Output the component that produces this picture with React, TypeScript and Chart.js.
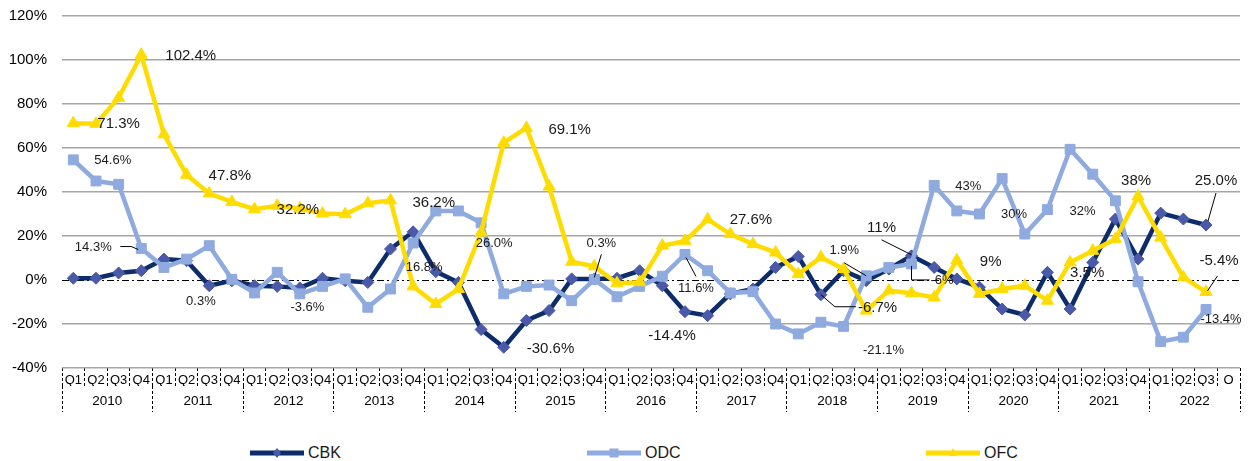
import React, { useEffect, useRef } from 'react';
import { Chart, registerables } from 'chart.js';

Chart.register(...registerables);

const YEARS = ['2010', '2011', '2012', '2013', '2014', '2015', '2016', '2017', '2018', '2019', '2020', '2021', '2022'];
const QUARTERS = [
  'Q1', 'Q2', 'Q3', 'Q4', 'Q1', 'Q2', 'Q3', 'Q4', 'Q1', 'Q2', 'Q3', 'Q4',
  'Q1', 'Q2', 'Q3', 'Q4', 'Q1', 'Q2', 'Q3', 'Q4', 'Q1', 'Q2', 'Q3', 'Q4',
  'Q1', 'Q2', 'Q3', 'Q4', 'Q1', 'Q2', 'Q3', 'Q4', 'Q1', 'Q2', 'Q3', 'Q4',
  'Q1', 'Q2', 'Q3', 'Q4', 'Q1', 'Q2', 'Q3', 'Q4', 'Q1', 'Q2', 'Q3', 'Q4',
  'Q1', 'Q2', 'Q3', 'O',
];
const Y_TICKS = [-40, -20, 0, 20, 40, 60, 80, 100, 120];

const CBK = [
  0.8, 0.8, 3.2, 4.2, 9.5, 8.8, -2.6, -0.3, -2.6, -2.9, -3.6, 0.8,
  -0.3, -1.1, 14.1, 21.9, 3.8, -1.1, -22.5, -30.6, -18.4, -13.9, 0.5, 0.5,
  0.8, 4.2, -2.6, -14.4, -16.2, -6.3, -4.1, 5.7, 10.7, -6.7, 4.2, -0.3,
  5.0, 11.0, 5.7, 0.5, -3.3, -13.2, -15.9, 3.5, -13.2, 8.0, 27.7, 9.5,
  30.4, 27.7, 25.0, null,
];
const ODC = [
  54.6, 45.0, 43.5, 14.3, 5.7, 9.5, 15.6, 0.3, -5.9, 3.5, -6.3, -2.9,
  0.5, -12.4, -4.1, 16.8, 31.4, 31.4, 26.0, -6.3, -2.9, -2.3, -9.4, 0.3,
  -7.6, -2.9, 1.7, 11.6, 4.2, -5.9, -5.3, -20.0, -24.5, -19.2, -21.1, 1.9,
  5.7, 7.3, 43.0, 31.4, 30.0, 46.1, 20.9, 32.0, 59.4, 48.1, 36.0, -0.8,
  -28.0, -26.0, -13.4, null,
];
const OFC = [
  71.3, 71.0, 82.8, 102.4, 66.2, 47.8, 39.3, 35.5, 32.2, 33.7, 32.5, 30.2,
  29.9, 34.9, 36.2, -2.9, -10.9, -4.1, 21.6, 62.4, 69.1, 42.5, 8.3, 6.2,
  -1.5, -1.0, 15.6, 17.8, 27.6, 20.9, 16.3, 12.5, 2.7, 10.3, 5.0, -13.9,
  -4.8, -6.0, -7.9, 9.0, -6.3, -4.1, -2.6, -9.4, 8.0, 13.3, 18.6, 38.0,
  19.3, 1.2, -5.4, null,
];

const SERIES_NAMES = ['CBK', 'ODC', 'OFC'];

const FONT = '"Liberation Sans", Arial, sans-serif';
const NAVY = '#0c2c6a';
const NAVY_MARK = '#4a59a8';
const LIGHT = '#8eaadf';
const YELLOW = '#ffdc00';
const TEXT = '#1a1a1a';

type Note = {
  ds: number;
  i: number;
  text: string;
  size: number;
  align: 'left' | 'center';
  dx: number;
  dy: number;
  leader?: number[][];
};

// data-label annotations: anchored on a series point, offset in px
const NOTES: Note[] = [
  { ds: 2, i: 0, text: '71.3%', size: 15, align: 'left', dx: 24, dy: 1 },
  { ds: 2, i: 3, text: '102.4%', size: 15, align: 'left', dx: 24, dy: 1 },
  { ds: 2, i: 5, text: '47.8%', size: 15, align: 'left', dx: 22, dy: 1 },
  { ds: 2, i: 8, text: '32.2%', size: 15, align: 'left', dx: 22, dy: 1 },
  { ds: 1, i: 0, text: '54.6%', size: 13, align: 'left', dx: 21, dy: 1 },
  { ds: 1, i: 3, text: '14.3%', size: 13, align: 'center', dx: -48, dy: -1, leader: [[-21, -2], [-10, -2], [-3, 1]] },
  { ds: 1, i: 7, text: '0.3%', size: 13, align: 'center', dx: -31, dy: 22 },
  { ds: 0, i: 10, text: '-3.6%', size: 13, align: 'center', dx: 7.5, dy: 20 },
  { ds: 2, i: 14, text: '36.2%', size: 15, align: 'left', dx: 22, dy: 2 },
  { ds: 1, i: 15, text: '16.8%', size: 13, align: 'center', dx: 11, dy: 24 },
  { ds: 1, i: 18, text: '26.0%', size: 13, align: 'center', dx: 13, dy: 21 },
  { ds: 0, i: 19, text: '-30.6%', size: 15, align: 'left', dx: 23, dy: 1.5 },
  { ds: 2, i: 20, text: '69.1%', size: 15, align: 'left', dx: 22, dy: 1.5 },
  { ds: 1, i: 23, text: '0.3%', size: 13, align: 'center', dx: 7, dy: -36, leader: [[7, -25], [0, -2]] },
  { ds: 0, i: 27, text: '-14.4%', size: 15, align: 'center', dx: -13, dy: 24.5 },
  { ds: 1, i: 27, text: '11.6%', size: 13, align: 'center', dx: 11, dy: 34, leader: [[1, 3], [11, 22]] },
  { ds: 2, i: 28, text: '27.6%', size: 15, align: 'left', dx: 22, dy: 1 },
  { ds: 0, i: 33, text: '-6.7%', size: 15, align: 'left', dx: 37, dy: 13, leader: [[0, 0], [14, 12], [35, 12]] },
  { ds: 1, i: 34, text: '-21.1%', size: 13, align: 'center', dx: 40, dy: 24 },
  { ds: 1, i: 35, text: '1.9%', size: 13, align: 'center', dx: -22, dy: -25, leader: [[-22, -13], [0, 0]] },
  { ds: 0, i: 37, text: '11%', size: 15, align: 'center', dx: -30, dy: -28, leader: [[-30, -16], [0, -1]] },
  { ds: 1, i: 37, text: '-6%', size: 13, align: 'center', dx: 30.5, dy: 16, leader: [[0, 2], [0, 16], [18, 16]] },
  { ds: 1, i: 38, text: '43%', size: 13, align: 'left', dx: 21, dy: 1 },
  { ds: 2, i: 39, text: '9%', size: 15, align: 'left', dx: 23, dy: 2 },
  { ds: 1, i: 40, text: '30%', size: 13, align: 'left', dx: 21.5, dy: 0.5 },
  { ds: 1, i: 43, text: '32%', size: 13, align: 'left', dx: 22, dy: 1.5 },
  { ds: 0, i: 43, text: '3.5%', size: 15, align: 'left', dx: 22.6, dy: 1 },
  { ds: 2, i: 47, text: '38%', size: 15, align: 'center', dx: -2, dy: -16 },
  { ds: 0, i: 50, text: '25.0%', size: 15, align: 'center', dx: 10, dy: -44, leader: [[10, -32], [2, -4]] },
  { ds: 2, i: 50, text: '-5.4%', size: 15, align: 'center', dx: 13, dy: -31, leader: [[11.5, -16], [1.5, -1]] },
  { ds: 1, i: 50, text: '-13.4%', size: 13, align: 'center', dx: 15, dy: 10 },
];

const annotatePlugin = {
  id: 'annotate',
  beforeDatasetsDraw(chart: any) {
    const { ctx, chartArea, scales } = chart;
    const py = Math.round(scales.y.getPixelForValue(0)) + 0.5;
    ctx.save();
    ctx.strokeStyle = '#000';
    ctx.lineWidth = 1.2;
    ctx.setLineDash([7, 3, 2, 3]);
    ctx.beginPath();
    ctx.moveTo(chartArea.left, py);
    ctx.lineTo(chartArea.right, py);
    ctx.stroke();
    ctx.restore();
  },
  afterDatasetsDraw(chart: any) {
    const { ctx } = chart;
    ctx.save();
    NOTES.forEach((n) => {
      const el = chart.getDatasetMeta(n.ds).data[n.i];
      if (!el) return;
      const x = el.x;
      const y = el.y;
      if (n.leader) {
        ctx.strokeStyle = '#000';
        ctx.lineWidth = 1;
        ctx.setLineDash([]);
        ctx.beginPath();
        n.leader.forEach((p, k) => {
          if (k === 0) ctx.moveTo(x + p[0], y + p[1]);
          else ctx.lineTo(x + p[0], y + p[1]);
        });
        ctx.stroke();
      }
      ctx.font = `${n.size}px ${FONT}`;
      ctx.fillStyle = TEXT;
      ctx.textAlign = n.align;
      ctx.textBaseline = 'middle';
      ctx.fillText(n.text, x + n.dx, y + n.dy);
    });
    ctx.restore();
  },
};

function LegendSample({ kind }: { kind: number }) {
  const color = kind === 0 ? NAVY : kind === 1 ? LIGHT : YELLOW;
  let marker: React.ReactNode = null;
  if (kind === 0) marker = <polygon points="27,3 31,8 27,13 23,8" fill={NAVY_MARK} />;
  if (kind === 1) marker = <rect x={22.5} y={3.5} width={9} height={9} fill={LIGHT} />;
  if (kind === 2) marker = <polygon points="27,3 31,11 23,11" fill={YELLOW} />;
  return (
    <svg width={54} height={16} style={{ display: 'block' }}>
      <line x1={0} y1={8} x2={54} y2={8} stroke={color} strokeWidth={5} />
      {marker}
    </svg>
  );
}

const LEGEND_LEFT = [250, 587, 926];

export default function App() {
  const ref = useRef<HTMLCanvasElement | null>(null);

  useEffect(() => {
    if (!ref.current) return;
    const chart = new Chart(ref.current, {
      type: 'line',
      data: {
        labels: QUARTERS,
        datasets: [
          {
            label: SERIES_NAMES[0],
            data: CBK,
            borderColor: NAVY,
            backgroundColor: NAVY_MARK,
            pointBackgroundColor: NAVY_MARK,
            pointBorderColor: NAVY_MARK,
            pointStyle: 'rectRot',
            pointRadius: 6,
            pointBorderWidth: 1,
            borderWidth: 4.5,
            tension: 0,
            order: 2,
          },
          {
            label: SERIES_NAMES[1],
            data: ODC,
            borderColor: LIGHT,
            backgroundColor: LIGHT,
            pointBackgroundColor: LIGHT,
            pointBorderColor: LIGHT,
            pointStyle: 'rect',
            pointRadius: 7,
            pointBorderWidth: 1,
            borderWidth: 4.5,
            tension: 0,
            order: 1,
          },
          {
            label: SERIES_NAMES[2],
            data: OFC,
            borderColor: YELLOW,
            backgroundColor: YELLOW,
            pointBackgroundColor: YELLOW,
            pointBorderColor: YELLOW,
            pointStyle: 'triangle',
            pointRadius: 7,
            pointBorderWidth: 1,
            borderWidth: 4.5,
            tension: 0,
            order: 0,
          },
        ],
      },
      options: {
        responsive: false,
        animation: false,
        layout: { padding: { top: 0, right: 7, bottom: 16, left: 0 } },
        plugins: {
          legend: { display: false },
          tooltip: { enabled: false },
        },
        scales: {
          x: {
            type: 'category',
            position: 'bottom',
            weight: 0,
            offset: true,
            border: { display: false },
            grid: {
              display: true,
              offset: true,
              drawOnChartArea: false,
              drawTicks: true,
              tickLength: 18,
              tickColor: '#000',
              tickWidth: 1,
              tickBorderDash: [3, 2],
            },
            ticks: {
              autoSkip: false,
              maxRotation: 0,
              minRotation: 0,
              padding: -13.8,
              color: '#000',
              font: { family: FONT, size: 13 },
            },
            afterFit: (s: any) => {
              s.height = 18;
            },
          },
          years: {
            type: 'category',
            labels: YEARS,
            position: 'bottom',
            weight: 1,
            offset: true,
            border: { display: false },
            grid: {
              display: true,
              offset: true,
              drawOnChartArea: false,
              drawTicks: true,
              tickLength: 26,
              tickColor: '#000',
              tickWidth: 1,
              tickBorderDash: [3, 2],
            },
            ticks: {
              autoSkip: false,
              maxRotation: 0,
              minRotation: 0,
              padding: -18.4,
              color: '#000',
              font: { family: FONT, size: 13.5 },
            },
            afterFit: (s: any) => {
              s.height = 26;
            },
          },
          y: {
            type: 'linear',
            min: Y_TICKS[0],
            max: Y_TICKS[Y_TICKS.length - 1],
            border: { display: false },
            grid: {
              drawTicks: true,
              tickLength: 15,
              tickColor: 'rgba(0,0,0,0)',
              lineWidth: 1.5,
              color: (c: any) => (c.tick && c.tick.value === 0 ? 'rgba(0,0,0,0)' : '#a6a6a6'),
            },
            afterBuildTicks: (s: any) => {
              s.ticks = Y_TICKS.map((v) => ({ value: v }));
            },
            ticks: {
              padding: 0,
              color: '#000',
              font: { family: FONT, size: 15 },
              callback: (v: any) => `${v}%`,
            },
            afterFit: (s: any) => {
              s.width = 54;
            },
          },
        },
      },
      plugins: [annotatePlugin],
    } as any);
    return () => chart.destroy();
  }, []);

  return (
    <div
      style={{
        position: 'fixed',
        left: 0,
        top: 0,
        width: 1248,
        height: 461,
        overflow: 'hidden',
        background: '#fff',
        fontFamily: FONT,
      }}
    >
      <canvas
        ref={ref}
        width={1240}
        height={421}
        style={{ position: 'absolute', left: 8, top: 7, display: 'block' }}
      />
      {SERIES_NAMES.map((name, k) => (
        <div
          key={name}
          style={{
            position: 'absolute',
            left: LEGEND_LEFT[k],
            top: 444,
            height: 18,
            display: 'flex',
            alignItems: 'center',
            gap: 4,
            fontSize: 16,
            color: TEXT,
            lineHeight: '18px',
          }}
        >
          <LegendSample kind={k} />
          <span>{name}</span>
        </div>
      ))}
    </div>
  );
}
